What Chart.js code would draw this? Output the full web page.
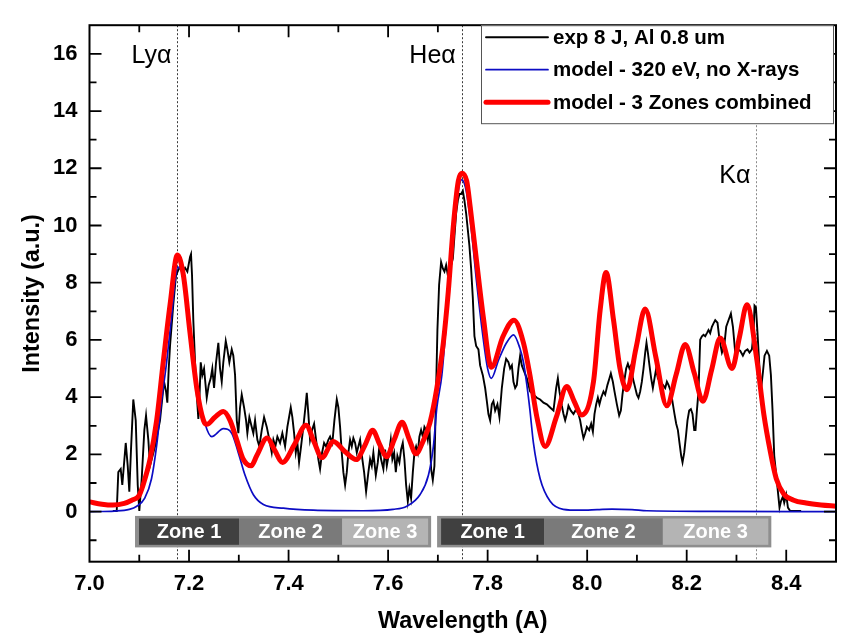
<!DOCTYPE html>
<html>
<head>
<meta charset="utf-8">
<script src="https://cdn.jsdelivr.net/npm/chart.js@4.4.1/dist/chart.umd.min.js"></script>
<style>
  html, body { margin: 0; padding: 0; background: #fff; }
  canvas { display: block; }
</style>
</head>
<body>
<canvas id="spectrum" width="846" height="636"></canvas>
<script>
// Measured spectrum: exp 8 J shot, Al 0.8 um target
const expWavelength = [
  7.0470, 7.0547, 7.0579, 7.0627, 7.0659, 7.0728, 7.0768, 7.0800, 7.0834, 7.0880, 7.0929, 7.0969,
  7.1001, 7.1049, 7.1102, 7.1136, 7.1182, 7.1216, 7.1317, 7.1417, 7.1497, 7.1538, 7.1564, 7.1592,
  7.1618, 7.1684, 7.1739, 7.1785, 7.1819, 7.1873, 7.1920, 7.1966, 7.2020, 7.2040, 7.2060, 7.2086,
  7.2121, 7.2155, 7.2187, 7.2207, 7.2235, 7.2267, 7.2302, 7.2356, 7.2396, 7.2436, 7.2468, 7.2503,
  7.2543, 7.2589, 7.2623, 7.2657, 7.2689, 7.2738, 7.2770, 7.2810, 7.2858, 7.2890, 7.2925, 7.2959,
  7.2991, 7.3025, 7.3059, 7.3106, 7.3146, 7.3172, 7.3212, 7.3260, 7.3292, 7.3327, 7.3373, 7.3413,
  7.3461, 7.3508, 7.3562, 7.3614, 7.3662, 7.3695, 7.3735, 7.3775, 7.3829, 7.3875, 7.3930, 7.3976,
  7.4044, 7.4076, 7.4111, 7.4145, 7.4177, 7.4211, 7.4251, 7.4297, 7.4338, 7.4366, 7.4398, 7.4432,
  7.4472, 7.4513, 7.4553, 7.4599, 7.4633, 7.4673, 7.4714, 7.4754, 7.4800, 7.4834, 7.4880, 7.4921,
  7.4969, 7.5001, 7.5035, 7.5069, 7.5101, 7.5136, 7.5170, 7.5202, 7.5236, 7.5270, 7.5302, 7.5337,
  7.5371, 7.5403, 7.5437, 7.5483, 7.5518, 7.5558, 7.5604, 7.5638, 7.5672, 7.5704, 7.5753, 7.5793,
  7.5825, 7.5859, 7.5905, 7.5940, 7.5974, 7.6020, 7.6054, 7.6086, 7.6121, 7.6155, 7.6187, 7.6227,
  7.6261, 7.6295, 7.6328, 7.6362, 7.6396, 7.6428, 7.6462, 7.6497, 7.6529, 7.6563, 7.6597, 7.6629,
  7.6663, 7.6698, 7.6730, 7.6764, 7.6798, 7.6830, 7.6864, 7.6898, 7.6931, 7.6965, 7.6991, 7.7025,
  7.7065, 7.7100, 7.7132, 7.7166, 7.7200, 7.7232, 7.7266, 7.7301, 7.7333, 7.7367, 7.7401, 7.7433,
  7.7467, 7.7502, 7.7534, 7.7568, 7.7602, 7.7634, 7.7668, 7.7702, 7.7735, 7.7769, 7.7815, 7.7849,
  7.7903, 7.7950, 7.7984, 7.8016, 7.8050, 7.8084, 7.8116, 7.8151, 7.8197, 7.8237, 7.8285, 7.8332,
  7.8372, 7.8418, 7.8452, 7.8487, 7.8519, 7.8553, 7.8587, 7.8619, 7.8653, 7.8687, 7.8788, 7.8854,
  7.8921, 7.8989, 7.9055, 7.9122, 7.9190, 7.9256, 7.9323, 7.9377, 7.9411, 7.9443, 7.9491, 7.9524,
  7.9558, 7.9592, 7.9624, 7.9672, 7.9725, 7.9779, 7.9825, 7.9859, 7.9893, 7.9926, 7.9960, 7.9994,
  8.0040, 8.0080, 8.0115, 8.0147, 8.0181, 8.0215, 8.0247, 8.0281, 8.0328, 8.0362, 8.0408, 8.0448,
  8.0476, 8.0516, 8.0549, 8.0597, 8.0643, 8.0677, 8.0709, 8.0744, 8.0784, 8.0818, 8.0850, 8.0884,
  8.0918, 8.0951, 8.0999, 8.1031, 8.1065, 8.1099, 8.1132, 8.1166, 8.1192, 8.1220, 8.1252, 8.1286,
  8.1320, 8.1353, 8.1387, 8.1421, 8.1467, 8.1522, 8.1568, 8.1602, 8.1634, 8.1682, 8.1723, 8.1755,
  8.1789, 8.1823, 8.1855, 8.1889, 8.1916, 8.1950, 8.1984, 8.2016, 8.2050, 8.2084, 8.2117, 8.2151,
  8.2177, 8.2205, 8.2237, 8.2271, 8.2306, 8.2338, 8.2372, 8.2406, 8.2438, 8.2472, 8.2506, 8.2539,
  8.2573, 8.2619, 8.2659, 8.2708, 8.2754, 8.2794, 8.2840, 8.2888, 8.2929, 8.2975, 8.3021, 8.3075,
  8.3129, 8.3176, 8.3222, 8.3262, 8.3310, 8.3343, 8.3363, 8.3391, 8.3423, 8.3463, 8.3497, 8.3532,
  8.3564, 8.3612, 8.3658, 8.3692, 8.3725, 8.3759, 8.3813, 8.3865, 8.3894, 8.3934, 8.3960, 8.4000,
  8.4034, 8.4080, 8.4300
];
const expIntensity = [
  0.02, 0.02, 1.38, 1.49, 0.93, 2.40, 1.60, 0.70, 2.17, 3.92, 3.19, 0.93,
  0.02, 1.15, 2.85, 3.36, 2.51, 1.60, 2.28, 3.19, 4.54, 4.20, 3.81, 5.00,
  5.79, 7.25, 8.27, 8.44, 8.55, 8.39, 8.52, 8.39, 8.90, 9.00, 8.27, 6.69,
  5.22, 4.09, 3.24, 3.86, 5.22, 4.77, 5.00, 3.98, 4.43, 4.66, 5.00, 4.32,
  5.22, 5.90, 5.00, 4.54, 5.22, 5.96, 5.67, 5.22, 5.67, 5.45, 4.77, 3.19,
  2.74, 3.64, 4.09, 3.64, 3.19, 2.74, 3.30, 2.96, 2.74, 3.19, 2.51, 2.28,
  2.85, 3.30, 2.96, 2.51, 2.06, 2.51, 2.28, 2.62, 2.40, 2.74, 2.28, 2.96,
  3.64, 3.30, 2.74, 2.06, 2.40, 1.72, 2.28, 2.96, 3.64, 4.15, 3.41, 2.51,
  2.85, 3.07, 2.51, 1.83, 1.49, 2.06, 2.40, 2.28, 2.51, 2.62, 2.40, 3.19,
  3.92, 3.64, 2.96, 2.06, 1.38, 0.93, 1.38, 2.06, 2.51, 2.28, 2.57, 2.40,
  2.06, 2.28, 2.51, 1.83, 1.38, 0.70, 1.38, 1.83, 1.60, 2.06, 1.27, 1.72,
  2.28, 1.83, 1.49, 2.17, 1.60, 2.06, 2.51, 1.83, 2.06, 1.38, 1.95, 1.72,
  2.17, 2.40, 1.83, 0.93, 0.36, 0.81, 0.47, 1.38, 2.06, 2.28, 2.06, 2.62,
  2.85, 2.62, 2.96, 2.85, 2.51, 2.96, 1.49, 1.10, 1.60, 4.32, 6.35, 7.93,
  8.72, 8.50, 8.39, 8.61, 8.27, 8.50, 8.61, 8.84, 9.63, 10.42, 10.87, 11.10,
  11.10, 11.21, 10.87, 10.42, 9.85, 9.29, 8.50, 7.48, 6.13, 5.79, 5.67, 5.11,
  4.77, 4.32, 3.86, 3.41, 3.19, 3.75, 3.86, 3.53, 3.75, 3.30, 4.32, 5.00,
  5.34, 5.22, 5.00, 5.11, 4.54, 4.32, 4.43, 5.00, 5.45, 5.11, 4.66, 4.20,
  4.09, 3.98, 3.92, 3.81, 3.75, 3.64, 3.53, 4.32, 4.66, 4.20, 3.70, 3.41,
  3.19, 3.41, 3.70, 3.53, 3.41, 3.58, 3.41, 3.19, 2.85, 2.57, 2.74, 2.96,
  2.85, 3.07, 2.79, 3.41, 3.75, 3.98, 3.75, 3.98, 4.20, 4.09, 4.43, 4.66,
  4.83, 4.54, 4.20, 3.75, 3.36, 3.53, 4.09, 4.54, 5.00, 5.17, 5.00, 5.11,
  4.66, 4.43, 4.09, 3.98, 4.20, 4.54, 5.00, 5.56, 5.90, 5.56, 5.11, 4.66,
  4.32, 4.66, 5.00, 4.66, 4.54, 4.43, 4.32, 4.54, 4.43, 4.20, 3.75, 3.41,
  3.07, 2.85, 2.40, 1.95, 1.72, 2.06, 2.62, 3.19, 3.53, 3.58, 3.41, 2.85,
  2.85, 3.53, 4.20, 6.01, 6.13, 6.18, 6.13, 6.24, 6.35, 6.24, 6.46, 6.58,
  6.69, 6.60, 6.01, 5.56, 5.79, 6.46, 6.69, 6.92, 6.46, 5.56, 5.67, 5.62,
  5.45, 5.62, 5.67, 5.56, 5.67, 6.24, 7.20, 7.14, 6.24, 5.00, 4.32, 4.88,
  5.45, 5.62, 5.45, 4.77, 3.53, 1.95, 1.04, 0.14, 0.36, 0.53, 0.31, 0.59,
  0.14, 0.02, 0.02
];

// Single-temperature model: 320 eV, no X-rays
const singleWavelength = [
  7.000, 7.050, 7.080, 7.095, 7.111, 7.1246, 7.1347, 7.1447, 7.1548, 7.1648, 7.1735, 7.178,
  7.1886, 7.202, 7.2155, 7.2322, 7.2456, 7.269, 7.2858, 7.299, 7.3126, 7.3293, 7.3494, 7.3896,
  7.450, 7.550, 7.610, 7.6376, 7.664, 7.681, 7.691, 7.698, 7.708, 7.720, 7.730, 7.740,
  7.748, 7.757, 7.767, 7.778, 7.790, 7.800, 7.8075, 7.822, 7.838, 7.852, 7.865, 7.872,
  7.8788, 7.885, 7.892, 7.9055, 7.9256, 7.952, 7.985, 8.020, 8.050, 8.090, 8.120, 8.250, 8.500
];
const singleIntensity = [
  0.00, 0.02, 0.08, 0.19, 0.47, 1.15, 2.28, 3.86, 5.20, 6.80, 8.27, 8.55,
  8.16, 6.35, 4.43, 3.07, 2.62, 2.90, 2.74, 2.06, 1.27, 0.59, 0.25, 0.12,
  0.05, 0.03, 0.08, 0.19, 0.59, 1.27, 2.28, 3.64, 4.77, 7.30, 9.50, 11.10,
  11.60, 11.20, 9.90, 8.00, 6.20, 5.00, 4.66, 5.30, 5.90, 6.18, 5.70, 5.22,
  4.43, 3.55, 2.40, 1.15, 0.36, 0.08, 0.05, 0.07, 0.09, 0.07, 0.03, 0.01, 0.00
];

// Three-zone model, zones combined
const zonesWavelength = [
  7.000, 7.025, 7.047, 7.070, 7.085, 7.0995, 7.108, 7.1216, 7.135, 7.148, 7.162, 7.1766,
  7.1886, 7.202, 7.2155, 7.229, 7.2355, 7.252, 7.269, 7.2824, 7.296, 7.309, 7.325, 7.336,
  7.357, 7.372, 7.388, 7.412, 7.435, 7.451, 7.467, 7.490, 7.513, 7.536, 7.553, 7.569,
  7.583, 7.597, 7.612, 7.628, 7.642, 7.656, 7.670, 7.684, 7.698, 7.711, 7.721, 7.731,
  7.741, 7.748, 7.758, 7.765, 7.778, 7.7913, 7.8075, 7.831, 7.853, 7.872, 7.885, 7.899,
  7.9156, 7.938, 7.959, 7.974, 7.989, 8.0127, 8.026, 8.038, 8.053, 8.066, 8.080, 8.098,
  8.1166, 8.138, 8.160, 8.179, 8.197, 8.215, 8.2326, 8.250, 8.2673, 8.291, 8.306, 8.321,
  8.341, 8.355, 8.368, 8.380, 8.395, 8.415, 8.440, 8.470, 8.500
];
const zonesIntensity = [
  0.34, 0.26, 0.23, 0.29, 0.40, 0.56, 0.95, 1.83, 3.20, 5.20, 7.25, 8.97,
  8.27, 6.24, 4.32, 3.19, 3.05, 3.30, 3.50, 3.19, 2.50, 1.83, 1.60, 1.95,
  2.57, 2.15, 1.72, 2.35, 3.02, 2.45, 1.89, 2.45, 2.10, 1.82, 2.30, 2.84,
  2.35, 1.92, 2.50, 3.12, 2.55, 2.02, 2.45, 3.10, 4.32, 5.90, 7.70, 9.97,
  11.55, 11.83, 11.55, 10.64, 8.72, 6.80, 5.05, 6.13, 6.69, 5.90, 4.77, 3.30,
  2.28, 3.30, 4.37, 3.85, 3.38, 4.54, 7.03, 8.36, 6.69, 5.00, 4.26, 5.70,
  7.08, 5.40, 3.70, 4.80, 5.84, 4.85, 3.86, 4.95, 6.07, 5.00, 6.10, 7.23,
  5.30, 3.40, 2.10, 1.15, 0.62, 0.40, 0.30, 0.23, 0.19
];

// Line identifications (wavelength in A)
const lineNames = ['Ly\u03B1', 'He\u03B1', 'K\u03B1'];
const lineWavelengths = [7.1765, 7.748, 8.340];

// Emission zones under the two line groups
const zoneNames = ['Zone 1', 'Zone 2', 'Zone 3'];
const zoneGroupLy = [7.0995, 7.3005, 7.5075, 7.6804];
const zoneGroupHe = [7.7065, 7.9135, 8.152, 8.364];

const FONT = '"Liberation Sans", Arial, Helvetica, sans-serif';

function toPairs(xs, ys) {
  return xs.map((x, i) => ({ x: x, y: ys[i] }));
}

const decorations = {
  id: 'decorations',
  beforeDatasetsDraw(chart) {
    const { ctx, chartArea: a, scales: { x } } = chart;
    ctx.save();
    ctx.lineWidth = 1;
    ctx.setLineDash([2, 2]);
    lineWavelengths.forEach((w, i) => {
      const px = Math.round(x.getPixelForValue(w)) + 0.5;
      ctx.strokeStyle = i === 2 ? '#8a8a8a' : '#3a3a3a';
      ctx.beginPath();
      ctx.moveTo(px, a.top);
      ctx.lineTo(px, a.bottom);
      ctx.stroke();
    });
    ctx.restore();
  },
  afterDatasetsDraw(chart) {
    const { ctx, chartArea: a, scales: { x, y } } = chart;
    ctx.save();

    // zone strips
    const fills = ['#404040', '#7a7a7a', '#b4b4b4'];
    [zoneGroupLy, zoneGroupHe].forEach(edges => {
      const outerL = x.getPixelForValue(edges[0]) - 4;
      const outerR = x.getPixelForValue(edges[3]) + 3;
      const oTop = y.getPixelForValue(-0.15), oBot = y.getPixelForValue(-1.25);
      ctx.fillStyle = '#8e8e8e';
      ctx.fillRect(outerL, oTop, outerR - outerL, oBot - oTop);
      const iTop = y.getPixelForValue(-0.24), iBot = y.getPixelForValue(-1.16);
      for (let k = 0; k < 3; k++) {
        const l = x.getPixelForValue(edges[k]);
        const r = x.getPixelForValue(edges[k + 1]);
        ctx.fillStyle = fills[k];
        ctx.fillRect(l, iTop, r - l, iBot - iTop);
        ctx.fillStyle = '#fff';
        ctx.font = 'bold 20px ' + FONT;
        ctx.textAlign = 'center';
        ctx.textBaseline = 'middle';
        ctx.fillText(zoneNames[k], (l + r) / 2, (iTop + iBot) / 2 + 1);
      }
    });

    // frame with inward ticks on all four sides
    ctx.strokeStyle = '#000';
    ctx.lineWidth = 2;
    ctx.setLineDash([]);
    ctx.strokeRect(a.left, a.top, a.right - a.left, a.bottom - a.top);
    ctx.lineWidth = 1.8;
    const major = 12, minor = 7;
    const xStep = x.ticks[1].value - x.ticks[0].value;
    const xHalf = xStep / 2;
    for (let k = Math.ceil(x.min / xHalf - 1e-6); k * xHalf < x.max - 1e-6; k++) {
      const v = k * xHalf;
      if (v <= x.min + 1e-6) continue;
      const isMajor = x.ticks.some(t => Math.abs(t.value - v) < 1e-6);
      const len = isMajor ? major : minor;
      const px = x.getPixelForValue(v);
      ctx.beginPath();
      ctx.moveTo(px, a.bottom); ctx.lineTo(px, a.bottom - len);
      ctx.moveTo(px, a.top); ctx.lineTo(px, a.top + len);
      ctx.stroke();
    }
    const yStep = y.ticks[1].value - y.ticks[0].value;
    const yHalf = yStep / 2;
    for (let k = Math.ceil(y.min / yHalf - 1e-6); k * yHalf < y.max - 1e-6; k++) {
      const v = k * yHalf;
      if (v <= y.min + 1e-6) continue;
      const isMajor = y.ticks.some(t => Math.abs(t.value - v) < 1e-6);
      const len = isMajor ? major : minor;
      const py = y.getPixelForValue(v);
      ctx.beginPath();
      ctx.moveTo(a.left, py); ctx.lineTo(a.left + len, py);
      ctx.moveTo(a.right, py); ctx.lineTo(a.right - len, py);
      ctx.stroke();
    }

    // line identification labels
    ctx.fillStyle = '#000';
    ctx.font = '25px ' + FONT;
    ctx.textAlign = 'right';
    ctx.textBaseline = 'middle';
    const labelLevels = [15.92, 15.92, 11.74];
    lineNames.forEach((name, i) => {
      ctx.fillText(name, x.getPixelForValue(lineWavelengths[i]) - 6, y.getPixelForValue(labelLevels[i]));
    });

    // legend box
    const bx = a.right - 355, by = a.top, bw = 352, bh = 98;
    ctx.fillStyle = '#fff';
    ctx.fillRect(bx, by, bw, bh);
    ctx.strokeStyle = '#555';
    ctx.lineWidth = 1;
    ctx.strokeRect(bx + 0.5, by + 0.5, bw, bh);
    const rows = [12, 44.5, 77];
    ctx.font = 'bold 20.5px ' + FONT;
    ctx.textAlign = 'left';
    ctx.lineCap = 'round';
    chart.data.datasets.forEach((ds, i) => {
      const ry = by + rows[i];
      ctx.strokeStyle = ds.borderColor;
      ctx.lineWidth = ds.borderWidth;
      ctx.beginPath();
      ctx.moveTo(bx + 5, ry);
      ctx.lineTo(bx + 67, ry);
      ctx.stroke();
      ctx.fillStyle = '#000';
      ctx.fillText(ds.label, bx + 72, ry + 1);
    });
    ctx.restore();
  }
};

new Chart(document.getElementById('spectrum'), {
  type: 'line',
  data: {
    datasets: [
      {
        label: 'exp 8 J, Al 0.8 um',
        data: toPairs(expWavelength, expIntensity),
        borderColor: '#000000',
        borderWidth: 1.9,
        pointRadius: 0,
        tension: 0,
        order: 3
      },
      {
        label: 'model - 320 eV, no X-rays',
        data: toPairs(singleWavelength, singleIntensity),
        borderColor: '#0c0cc4',
        borderWidth: 1.7,
        pointRadius: 0,
        cubicInterpolationMode: 'monotone',
        order: 2
      },
      {
        label: 'model - 3 Zones combined',
        data: toPairs(zonesWavelength, zonesIntensity),
        borderColor: '#ff0000',
        borderWidth: 5,
        pointRadius: 0,
        cubicInterpolationMode: 'monotone',
        order: 1
      }
    ]
  },
  options: {
    responsive: false,
    animation: false,
    devicePixelRatio: 1,
    layout: { padding: { left: 0, right: 10, top: 10, bottom: 0 } },
    plugins: { legend: { display: false }, tooltip: { enabled: false } },
    scales: {
      x: {
        type: 'linear',
        min: 7.0,
        max: 8.5,
        grid: { display: false, drawTicks: false, tickLength: 0 },
        border: { display: false },
        ticks: {
          stepSize: 0.2,
          includeBounds: false,
          maxRotation: 0,
          autoSkip: false,
          padding: 9,
          color: '#000',
          font: { family: FONT, size: 22, weight: 'bold' },
          callback: v => Number(v).toFixed(1)
        },
        title: {
          display: true,
          text: 'Wavelength (A)',
          color: '#000',
          font: { family: FONT, size: 23.4, weight: 'bold' },
          padding: { top: 0, bottom: 0 }
        },
        afterFit: s => { s.height = 74.3; }
      },
      y: {
        type: 'linear',
        min: -1.75,
        max: 17,
        grid: { display: false, drawTicks: false, tickLength: 0 },
        border: { display: false },
        ticks: {
          stepSize: 2,
          includeBounds: false,
          padding: 12,
          color: '#000',
          font: { family: FONT, size: 22, weight: 'bold' },
          callback: v => String(Math.round(v))
        },
        title: {
          display: true,
          text: 'Intensity (a.u.)',
          color: '#000',
          font: { family: FONT, size: 23.4, weight: 'bold' },
          padding: { top: 19, bottom: 0 }
        },
        afterFit: s => { s.width = 89.5; }
      }
    }
  },
  plugins: [decorations]
});
</script>
</body>
</html>
